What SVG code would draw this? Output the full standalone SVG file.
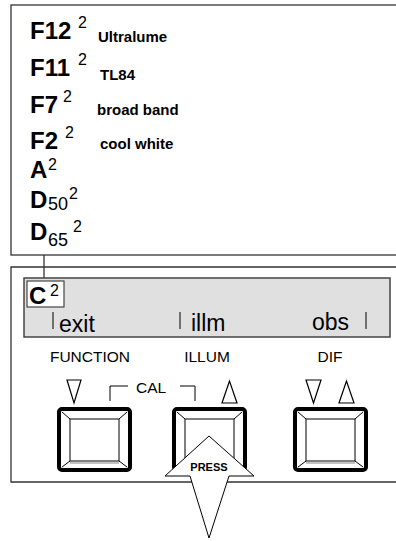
<svg xmlns="http://www.w3.org/2000/svg" width="396" height="541" viewBox="0 0 396 541">
<style>
.big{font-family:"Liberation Sans",Arial,sans-serif;font-weight:bold;font-size:24px;fill:#000}
.sup{font-family:"Liberation Sans",Arial,sans-serif;font-size:16px;fill:#000}
.sub{font-family:"Liberation Sans",Arial,sans-serif;font-size:18px;fill:#000}
.lbl{font-family:"Liberation Sans",Arial,sans-serif;font-weight:bold;font-size:15px;fill:#000}
.disp{font-family:"Liberation Sans",Arial,sans-serif;font-size:23px;fill:#000}
.key{font-family:"Liberation Sans",Arial,sans-serif;font-size:15.5px;fill:#000}
.ln{fill:none;stroke:#333;stroke-width:1.3}
.tri{fill:#fff;stroke:#000;stroke-width:1.2}
.thin{fill:none;stroke:#000;stroke-width:1}
</style>
<rect width="396" height="541" fill="#fff"/>
<g id="illuminant-list">
<rect class="ln" x="11" y="5" width="400" height="250"/>
<text class="big" x="30" y="39">F12</text><text class="sup" x="78" y="28">2</text><text class="lbl" x="98" y="42">Ultralume</text>
<text class="big" x="30" y="76">F11</text><text class="sup" x="78" y="65">2</text><text class="lbl" x="100" y="80">TL84</text>
<text class="big" x="30" y="113">F7</text><text class="sup" x="63" y="102">2</text><text class="lbl" x="97" y="115">broad band</text>
<text class="big" x="30" y="149">F2</text><text class="sup" x="65" y="138">2</text><text class="lbl" x="100" y="149">cool white</text>
<text class="big" x="30" y="178">A</text><text class="sup" x="48" y="170">2</text>
<text class="big" x="30" y="208">D</text><text class="sub" x="48" y="210">50</text><text class="sup" x="69" y="199">2</text>
<text class="big" x="30" y="240">D</text><text class="sub" x="48" y="246">65</text><text class="sup" x="73" y="232">2</text>
</g>
<g id="connectors">
<line class="ln" x1="44" y1="255" x2="44" y2="281"/>
</g>
<g id="panel">
<path class="ln" d="M396 267 H11 V482 H396"/>
</g>
<g id="display">
<rect x="24" y="278" width="366" height="59" fill="#e0e0e0" stroke="#444" stroke-width="1.5"/>
<rect x="27" y="281" width="37" height="26" fill="#fff" stroke="#444" stroke-width="1.2"/>
<text class="big" x="29" y="304">C</text><text class="sup" x="50" y="296">2</text>
<line class="thin" x1="53" y1="312" x2="53" y2="329"/>
<text class="disp" x="59" y="332">exit</text>
<line class="thin" x1="180" y1="312" x2="180" y2="329"/>
<text class="disp" x="191" y="331">illm</text>
<text class="disp" x="312" y="330">obs</text>
<line class="thin" x1="366" y1="312" x2="366" y2="329"/>
</g>
<g id="function-key">
<text class="key" x="90" y="362" text-anchor="middle">FUNCTION</text>
<polygon class="tri" points="67,380 81,380 74,403"/>
<rect x="59" y="409" width="71" height="61" rx="3" fill="#fff" stroke="#000" stroke-width="4"/>
<rect x="70" y="419" width="49" height="42" fill="none" stroke="#000" stroke-width="1"/>
<path class="thin" d="M62 412 L70 419 M127 412 L119 419 M62 467 L70 461 M127 467 L119 461"/>
<line x1="70" y1="463" x2="119" y2="463" stroke="#888" stroke-width="1"/>
</g>
<g id="cal-label">
<path class="thin" d="M110 401 V386 H128"/>
<text class="key" x="136" y="393">CAL</text>
<path class="thin" d="M180 386 H195 V401"/>
</g>
<g id="illum-key">
<text class="key" x="207" y="362" text-anchor="middle">ILLUM</text>
<polygon class="tri" points="229.5,381 222,403 237,403"/>
<rect x="174" y="409" width="71" height="61" rx="3" fill="#fff" stroke="#000" stroke-width="4"/>
<rect x="185" y="419" width="49" height="42" fill="none" stroke="#000" stroke-width="1"/>
<path class="thin" d="M177 412 L185 419 M242 412 L234 419 M177 467 L185 461 M242 467 L234 461"/>
</g>
<g id="dif-key">
<text class="key" x="330" y="362" text-anchor="middle">DIF</text>
<polygon class="tri" points="306,380 321,380 313.5,403"/>
<polygon class="tri" points="346.5,381 339,403 354,403"/>
<rect x="295" y="409" width="71" height="61" rx="3" fill="#fff" stroke="#000" stroke-width="4"/>
<rect x="306" y="419" width="49" height="42" fill="none" stroke="#000" stroke-width="1"/>
<path class="thin" d="M298 412 L306 419 M363 412 L355 419 M298 467 L306 461 M363 467 L355 461"/>
<line x1="306" y1="463" x2="355" y2="463" stroke="#888" stroke-width="1"/>
</g>
<g id="press-arrow">
<polygon points="209,436 254,476 229,476 209,538 190,476 165,476" fill="#fff" stroke="#000" stroke-width="1"/>
<text x="209" y="471" text-anchor="middle" style="font-family:'Liberation Sans',Arial,sans-serif;font-weight:bold;font-size:11px">PRESS</text>
</g>
</svg>
